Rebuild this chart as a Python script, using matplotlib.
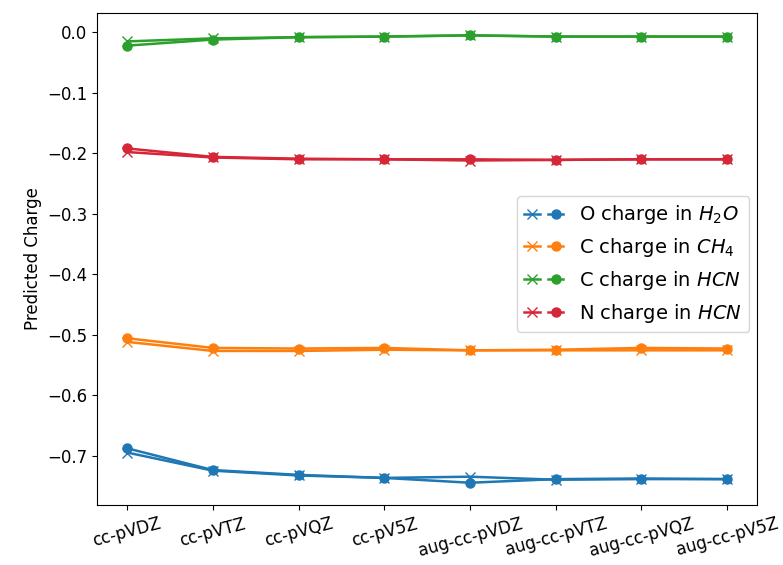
import matplotlib
matplotlib.use("Agg")
import matplotlib.pyplot as plt
from matplotlib.legend_handler import HandlerTuple

basis = ["cc-pVDZ", "cc-pVTZ", "cc-pVQZ", "cc-pV5Z",
         "aug-cc-pVDZ", "aug-cc-pVTZ", "aug-cc-pVQZ", "aug-cc-pV5Z"]

h2o_a = [-0.695, -0.725, -0.733, -0.737, -0.735, -0.740, -0.739, -0.739]
h2o_b = [-0.688, -0.724, -0.732, -0.737, -0.745, -0.739, -0.738, -0.739]
ch4_a = [-0.512, -0.527, -0.527, -0.525, -0.526, -0.526, -0.526, -0.526]
ch4_b = [-0.506, -0.522, -0.523, -0.522, -0.526, -0.525, -0.522, -0.523]
hcnC_a = [-0.015, -0.010, -0.008, -0.007, -0.005, -0.007, -0.007, -0.007]
hcnC_b = [-0.022, -0.012, -0.008, -0.007, -0.005, -0.007, -0.007, -0.007]
hcnN_a = [-0.198, -0.207, -0.210, -0.210, -0.212, -0.211, -0.210, -0.210]
hcnN_b = [-0.192, -0.206, -0.209, -0.210, -0.210, -0.211, -0.210, -0.210]

labels = [r"O charge in $H_2O$", r"C charge in $CH_4$",
          r"C charge in $HCN$", r"N charge in $HCN$"]
colors = ["#1f77b4", "#ff7f0e", "#2ca02c", "#d62738"]

fig = plt.figure(figsize=(7.83, 5.65), dpi=100)
ax = fig.add_axes([0.124, 0.106, 0.843, 0.871])

x = list(range(len(basis)))
handles = []
for a, b, c in zip([h2o_a, ch4_a, hcnC_a, hcnN_a],
                   [h2o_b, ch4_b, hcnC_b, hcnN_b], colors):
    la, = ax.plot(x, a, marker="x", color=c, lw=1.8, ms=6.5)
    lb, = ax.plot(x, b, marker="o", color=c, lw=1.8, ms=6.5)
    handles.append((la, lb))

ax.set_xticks(x)
ax.set_xticklabels(basis, rotation=15, fontsize=12)
ax.tick_params(axis="y", labelsize=12)
ax.set_yticks([0.0, -0.1, -0.2, -0.3, -0.4, -0.5, -0.6, -0.7])
ax.set_ylabel("Predicted Charge", fontsize=12)

ax.legend(handles, labels, handler_map={tuple: HandlerTuple(ndivide=None)},
          loc="center right", bbox_to_anchor=(1.003, 0.49), fontsize=14)

fig.savefig("out.png", dpi=100)
